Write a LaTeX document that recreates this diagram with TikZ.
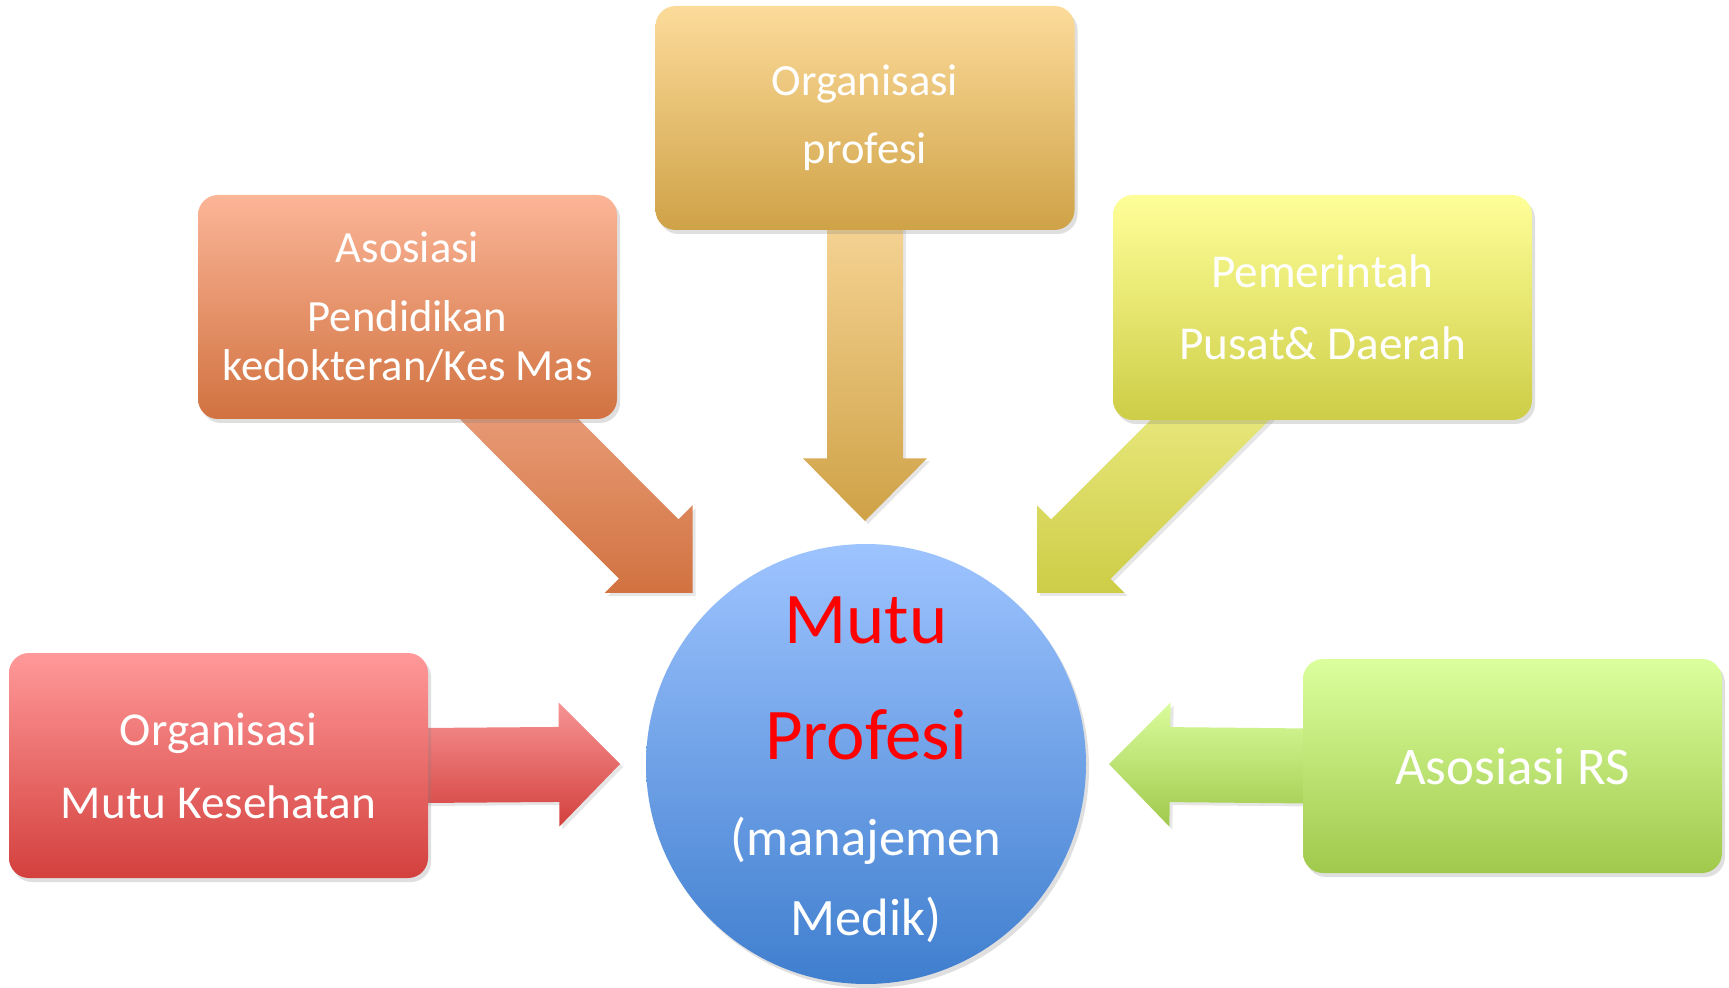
\documentclass[tikz,border=0pt]{standalone}
\usepackage{fontspec}
\setmainfont{Carlito}
\usetikzlibrary{calc,shadows,backgrounds}

% colours
\definecolor{profTop}{HTML}{FCDB9A}
\definecolor{profBot}{HTML}{CFA247}
\definecolor{asosTop}{HTML}{FBB597}
\definecolor{asosBot}{HTML}{D17240}
\definecolor{pemTop}{HTML}{FFFF99}
\definecolor{pemBot}{HTML}{CDCD47}
\definecolor{omkTop}{HTML}{FF9999}
\definecolor{omkBot}{HTML}{D3403D}
\definecolor{rsTop}{HTML}{DBFF9D}
\definecolor{rsBot}{HTML}{A0C94C}
\definecolor{mpTop}{HTML}{9EC4FF}
\definecolor{mpBot}{HTML}{3F7ECE}
\definecolor{profArr}{HTML}{F5D393}
\definecolor{asosArr}{HTML}{F0A887}
\definecolor{pemArr}{HTML}{F0EF8C}
\definecolor{omkArr}{HTML}{F79494}
\definecolor{rsArr}{HTML}{DAFC9C}

\tikzset{
  box/.style={rounded corners=10pt, minimum width=209.5pt, align=center, text=white,
    drop shadow={opacity=.25, shadow xshift=1.5pt, shadow yshift=-2pt}},
  fatarrow/.style={drop shadow={opacity=.2, shadow xshift=1.5pt, shadow yshift=-1.5pt}},
}

% thick arrow: base name, start, tip, half shaft, head length, colours
\newcommand{\fatArrow}[6]{%
  \coordinate (#1) at ($(#3)!#5!(#2)$);
  \path[fatarrow, #6] ($(#2)!#4!90:(#3)$) -- ($(#1)!#4!90:(#3)$) -- ($(#1)!31pt!90:(#3)$) -- (#3)
    -- ($(#1)!31pt!-90:(#3)$) -- ($(#1)!#4!-90:(#3)$) -- ($(#2)!#4!-90:(#3)$) -- cycle;
}

\begin{document}
\begin{tikzpicture}[x=0.5pt, y=-0.5pt]
  \useasboundingbox (0,0) rectangle (1729,988);

  % centre
  \node[circle, minimum size=220pt, top color=mpTop, bottom color=mpBot,
    drop shadow={opacity=.25, shadow xshift=1.5pt, shadow yshift=-2pt}] (mp) at (866,764) {};
  \node[align=center, font=\fontsize{26.3}{40}\selectfont] (mptxt) at ([yshift=-3pt]mp.center)
    {\fontsize{36.4}{40}\selectfont\color{red}Mutu\\[18pt]
     \fontsize{36.4}{40}\selectfont\color{red}Profesi\\[8pt]
     \color{white}(manajemen\\
     \color{white}Medik)};

  % boxes
  \node[box, minimum height=112pt, top color=profTop, bottom color=profBot,
    font=\fontsize{22.3}{34}\selectfont] (prof) at (865,118) {Organisasi\\profesi};
  \node[box, minimum height=112pt, top color=asosTop, bottom color=asosBot,
    font=\fontsize{22.3}{24.5}\selectfont] (asos) at (407.5,307) {Asosiasi\\[10pt]Pendidikan\\kedokteran/Kes Mas};
  \node[box, minimum height=112.5pt, top color=pemTop, bottom color=pemBot,
    font=\fontsize{23.6}{36}\selectfont] (pem) at (1322.5,307.5) {Pemerintah\\Pusat\& Daerah};
  \node[box, minimum height=112.5pt, top color=omkTop, bottom color=omkBot,
    font=\fontsize{23.6}{36.5}\selectfont] (omk) at (218.5,765.5) {Organisasi\\Mutu Kesehatan};
  \node[box, minimum height=107pt, top color=rsTop, bottom color=rsBot,
    font=\fontsize{26.5}{32}\selectfont] (rs) at (1512.5,766) {Asosiasi RS};

  % arrows
  \begin{scope}[on background layer]
    \coordinate (tipT) at (865,521);
    \coordinate (tipA) at (692.5,593);
    \coordinate (tipB) at (1037,593);
    \coordinate (tipL) at (620,764);
    \coordinate (tipR) at (1109,764);
    \coordinate (sT) at ([yshift=4pt]prof.south);
    \coordinate (sA) at ($(asos.center)!52pt!(tipA)$);
    \coordinate (sB) at ($(pem.center)!52pt!(tipB)$);
    \coordinate (sL) at ([xshift=-4pt]omk.east);
    \coordinate (sR) at ([xshift=4pt]rs.west);
    \fatArrow{hT}{sT}{tipT}{19pt}{31.3pt}{top color=profArr, bottom color=profBot}
    \fatArrow{hA}{sA}{tipA}{21pt}{31pt}{top color=asosArr, bottom color=asosBot}
    \fatArrow{hB}{sB}{tipB}{21pt}{31pt}{top color=pemArr, bottom color=pemBot}
    \fatArrow{hL}{sL}{tipL}{18.75pt}{30.5pt}{top color=omkArr, bottom color=omkBot}
    \fatArrow{hR}{sR}{tipR}{18.75pt}{30.5pt}{top color=rsArr, bottom color=rsBot}
  \end{scope}
\end{tikzpicture}
\end{document}
